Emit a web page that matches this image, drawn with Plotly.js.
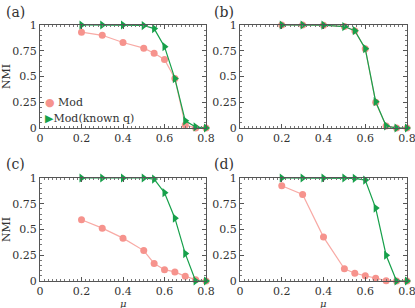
<!DOCTYPE html>
<html>
<head>
<meta charset="utf-8">
<script src="https://cdn.plot.ly/plotly-3.0.1.min.js"></script>
<style>html,body{margin:0;padding:0;background:#fff}#chart{width:415px;height:308px}</style>
</head>
<body>
<div id="chart"></div>
<script>
// ---- data ----
var mu = [0.2, 0.3, 0.4, 0.5, 0.55, 0.6, 0.65, 0.7, 0.75, 0.8];
var modA   = [0.93, 0.90, 0.83, 0.775, 0.725, 0.665, 0.48, 0.03, 0.0, 0.0];
var knownA = [1.0, 1.0, 1.0, 0.995, 0.965, 0.79, 0.48, 0.07, 0.01, 0.0];
var modB   = [1.0, 1.0, 0.998, 0.985, 0.945, 0.77, 0.25, 0.02, 0.0, 0.0];
var knownB = [1.0, 1.0, 0.998, 0.985, 0.945, 0.77, 0.255, 0.02, 0.0, 0.0];
var modC   = [0.595, 0.513, 0.416, 0.295, 0.17, 0.11, 0.088, 0.045, 0.013, 0.0];
var knownC = [1.0, 1.0, 1.0, 1.0, 0.99, 0.857, 0.61, 0.266, 0.0, 0.0];
var modD   = [0.925, 0.84, 0.426, 0.118, 0.075, 0.052, 0.026, 0.003, 0.0, 0.0];
var knownD = [1.0, 1.0, 1.0, 1.0, 0.997, 0.98, 0.708, 0.25, 0.0, 0.0];
var seriesNames = ["Mod", "Mod(known q)"];
var panelLabels = ["(a)", "(b)", "(c)", "(d)"];
var xTickVals = [0, 0.2, 0.4, 0.6, 0.8];
var xTickText = ["0", "0.2", "0.4", "0.6", "0.8"];
var yTickVals = [0, 0.25, 0.5, 0.75, 1];
var yTickText = ["0", "0.25", "0.5", "0.75", "1"];

// ---- styles ----
var pink = "#f6938d", pinkLine = "#f8aaa5", green = "#16a04a";
var FONT = "DejaVu Serif";
var mods = [modA, modB, modC, modD];
var knowns = [knownA, knownB, knownC, knownD];
var axSuffix = ["", "2", "3", "4"];

var traces = [];
for (var i = 0; i < 4; i++) {
  var s = axSuffix[i];
  traces.push({x: mu, y: mods[i], xaxis: "x" + s, yaxis: "y" + s, mode: "lines+markers",
    line: {color: pinkLine, width: 1.2}, marker: {color: pink, size: 7, symbol: "circle"},
    cliponaxis: false, showlegend: false, name: seriesNames[0]});
  traces.push({x: mu, y: knowns[i], xaxis: "x" + s, yaxis: "y" + s, mode: "lines+markers",
    line: {color: green, width: 1.2}, marker: {color: green, size: 8, symbol: "triangle-right"},
    cliponaxis: false, showlegend: false, name: seriesNames[1]});
}

var W = 415, H = 308;
function xdom(l, r) { return [l / W, r / W]; }
function ydom(t, b) { return [1 - b / H, 1 - t / H]; }

function xaxis(dom, anchor) {
  return {domain: dom, anchor: anchor, range: [0, 0.8], tickvals: xTickVals, ticktext: xTickText,
    ticks: "inside", ticklen: 4, tickcolor: "#555", showline: true, linecolor: "#555", linewidth: 1,
    mirror: "allticks", showgrid: false, zeroline: false, automargin: false, ticklabeloverflow: "allow",
    minor: {dtick: 0.02, ticks: "inside", ticklen: 2, tickcolor: "#777", showgrid: false},
    tickfont: {family: FONT, size: 11, color: "#333"}};
}
function yaxis(dom, anchor, title) {
  return {domain: dom, anchor: anchor, range: [0, 1], tickvals: yTickVals, ticktext: yTickText,
    ticks: "inside", ticklen: 4, tickcolor: "#555", showline: true, linecolor: "#555", linewidth: 1,
    mirror: "allticks", showgrid: false, zeroline: false, automargin: false, ticklabeloverflow: "allow",
    minor: {dtick: 0.05, ticks: "inside", ticklen: 2, tickcolor: "#777", showgrid: false},
    tickfont: {family: FONT, size: 11, color: "#333"},
    title: {text: title || "", font: {family: FONT, size: 11, color: "#333"}, standoff: 4}};
}

function paperText(txt, px, py, size, anchor) {
  return {text: txt, x: px / W, y: 1 - py / H, xref: "paper", yref: "paper", xanchor: anchor || "left",
    yanchor: "middle", showarrow: false, font: {family: FONT, size: size, color: "#333"}};
}

var layout = {
  width: W, height: H, margin: {l: 0, r: 0, t: 0, b: 0},
  paper_bgcolor: "#fff", plot_bgcolor: "#fff",
  font: {family: FONT, color: "#333"},
  showlegend: false,
  xaxis: xaxis(xdom(40, 206), "y"),
  yaxis: yaxis(ydom(25, 128), "x", "NMI"),
  xaxis2: xaxis(xdom(240, 407), "y2"),
  yaxis2: yaxis(ydom(25, 128), "x2"),
  xaxis3: xaxis(xdom(40, 206), "y3"),
  yaxis3: yaxis(ydom(178, 281), "x3", "NMI"),
  xaxis4: xaxis(xdom(240, 407), "y4"),
  yaxis4: yaxis(ydom(178, 281), "x4"),
  annotations: [
    paperText(panelLabels[0], 4, 12, 14),
    paperText(panelLabels[1], 212, 12, 14),
    paperText(panelLabels[2], 4, 164, 14),
    paperText(panelLabels[3], 212, 164, 14),
    paperText("<i>μ</i>", 123, 303.5, 10, "center"),
    paperText("<i>μ</i>", 323, 303.5, 10, "center"),
    paperText('<span style="color:' + pink + '">●</span> ' + seriesNames[0], 43, 103, 11),
    paperText('<span style="color:' + green + '">▶</span>' + seriesNames[1], 43, 118, 11)
  ]
};

Plotly.newPlot("chart", traces, layout, {staticPlot: true, displayModeBar: false});
</script>
</body>
</html>
